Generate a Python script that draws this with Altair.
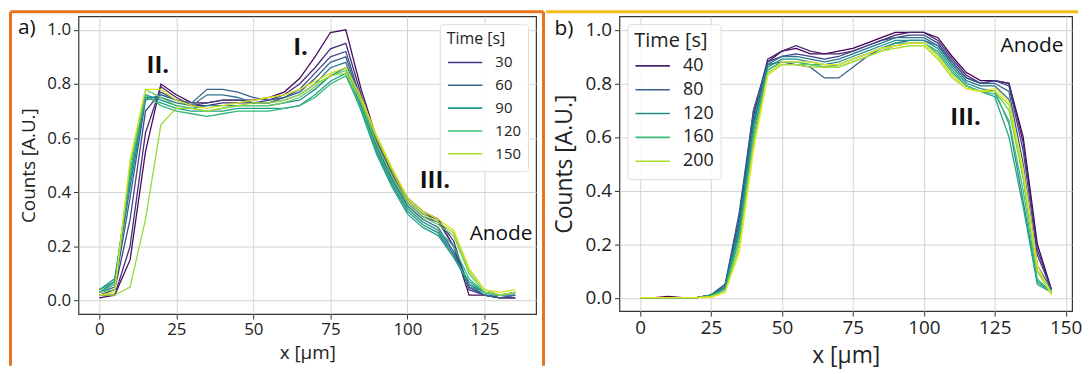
import altair as alt
import pandas as pd

# ---------------- data: panel a ----------------
xa = [0, 5, 10, 15, 20, 25, 30, 35, 40, 45, 50, 55, 60, 65,
      70, 75, 80, 85, 90, 95, 100, 105, 110, 115, 120, 125, 130, 135]
times_a = [10, 25, 40, 55, 70, 85, 100, 115, 130, 145, 160]
a_10 = [0.01, 0.02, 0.15, 0.55, 0.80, 0.76, 0.73, 0.73, 0.74, 0.74, 0.74, 0.75, 0.77, 0.82,
        0.90, 0.99, 1.00, 0.78, 0.60, 0.48, 0.38, 0.33, 0.30, 0.20, 0.02, 0.02, 0.01, 0.01]
a_25 = [0.02, 0.02, 0.20, 0.62, 0.79, 0.75, 0.72, 0.72, 0.73, 0.73, 0.73, 0.74, 0.76, 0.80,
        0.86, 0.93, 0.95, 0.76, 0.59, 0.47, 0.37, 0.32, 0.30, 0.22, 0.04, 0.02, 0.01, 0.01]
a_40 = [0.02, 0.04, 0.30, 0.70, 0.77, 0.74, 0.72, 0.73, 0.74, 0.74, 0.73, 0.73, 0.75, 0.78,
        0.84, 0.90, 0.92, 0.74, 0.58, 0.46, 0.36, 0.31, 0.29, 0.20, 0.05, 0.02, 0.01, 0.02]
a_55 = [0.03, 0.05, 0.38, 0.74, 0.76, 0.74, 0.73, 0.78, 0.78, 0.77, 0.75, 0.74, 0.75, 0.77,
        0.82, 0.88, 0.90, 0.73, 0.57, 0.45, 0.35, 0.30, 0.27, 0.18, 0.05, 0.02, 0.01, 0.02]
a_70 = [0.03, 0.07, 0.42, 0.75, 0.75, 0.73, 0.72, 0.76, 0.76, 0.75, 0.73, 0.73, 0.74, 0.76,
        0.80, 0.86, 0.88, 0.72, 0.56, 0.44, 0.34, 0.29, 0.26, 0.17, 0.06, 0.02, 0.02, 0.02]
a_85 = [0.04, 0.08, 0.45, 0.76, 0.74, 0.72, 0.71, 0.72, 0.72, 0.72, 0.72, 0.72, 0.73, 0.74,
        0.78, 0.83, 0.86, 0.71, 0.55, 0.43, 0.33, 0.28, 0.25, 0.16, 0.06, 0.03, 0.02, 0.03]
a_100 = [0.04, 0.07, 0.45, 0.75, 0.73, 0.71, 0.70, 0.70, 0.70, 0.71, 0.71, 0.71, 0.71, 0.72,
         0.76, 0.81, 0.84, 0.70, 0.54, 0.42, 0.32, 0.27, 0.24, 0.16, 0.07, 0.03, 0.02, 0.03]
a_115 = [0.03, 0.06, 0.48, 0.76, 0.72, 0.70, 0.69, 0.68, 0.69, 0.70, 0.70, 0.70, 0.71, 0.72,
         0.75, 0.80, 0.83, 0.71, 0.56, 0.44, 0.34, 0.29, 0.26, 0.20, 0.08, 0.03, 0.02, 0.03]
a_130 = [0.03, 0.04, 0.50, 0.78, 0.75, 0.72, 0.71, 0.70, 0.71, 0.72, 0.72, 0.72, 0.73, 0.75,
         0.79, 0.83, 0.85, 0.73, 0.58, 0.46, 0.36, 0.31, 0.28, 0.24, 0.10, 0.03, 0.02, 0.03]
a_145 = [0.02, 0.02, 0.05, 0.30, 0.65, 0.71, 0.71, 0.70, 0.71, 0.72, 0.73, 0.73, 0.74, 0.76,
         0.80, 0.83, 0.84, 0.74, 0.60, 0.48, 0.37, 0.32, 0.29, 0.25, 0.11, 0.04, 0.02, 0.03]
a_160 = [0.02, 0.03, 0.52, 0.78, 0.78, 0.74, 0.72, 0.71, 0.72, 0.73, 0.74, 0.75, 0.76, 0.78,
         0.81, 0.84, 0.86, 0.75, 0.61, 0.49, 0.38, 0.33, 0.30, 0.26, 0.12, 0.04, 0.03, 0.04]
series_a = [a_10, a_25, a_40, a_55, a_70, a_85, a_100, a_115, a_130, a_145, a_160]
legend_a = [30, 60, 90, 120, 150]

# ---------------- data: panel b ----------------
xb = [0, 5, 10, 15, 20, 25, 30, 35, 40, 45, 50, 55, 60, 65, 70,
      75, 80, 85, 90, 95, 100, 105, 110, 115, 120, 125, 130, 135, 140, 145]
times_b = [20, 40, 60, 80, 100, 120, 140, 160, 180, 200, 220]
b_20 = [0.00, 0.00, 0.005, 0.00, 0.00, 0.01, 0.04, 0.25, 0.65, 0.88, 0.92, 0.93, 0.91, 0.91, 0.92,
        0.93, 0.95, 0.97, 0.99, 0.99, 0.99, 0.97, 0.90, 0.84, 0.81, 0.81, 0.80, 0.60, 0.20, 0.03]
b_40 = [0.00, 0.00, 0.00, 0.00, 0.00, 0.01, 0.04, 0.28, 0.68, 0.89, 0.92, 0.94, 0.92, 0.91, 0.91,
        0.92, 0.94, 0.96, 0.98, 0.99, 0.99, 0.96, 0.89, 0.83, 0.80, 0.81, 0.80, 0.58, 0.18, 0.03]
b_60 = [0.00, 0.00, 0.00, 0.00, 0.00, 0.01, 0.05, 0.30, 0.70, 0.88, 0.90, 0.91, 0.90, 0.89, 0.90,
        0.92, 0.94, 0.96, 0.97, 0.98, 0.98, 0.95, 0.88, 0.82, 0.80, 0.81, 0.79, 0.55, 0.16, 0.03]
b_80 = [0.00, 0.00, 0.00, 0.00, 0.00, 0.01, 0.05, 0.32, 0.70, 0.87, 0.88, 0.87, 0.86, 0.82, 0.82,
        0.86, 0.90, 0.93, 0.95, 0.96, 0.96, 0.94, 0.88, 0.82, 0.80, 0.80, 0.77, 0.50, 0.12, 0.03]
b_100 = [0.00, 0.00, 0.00, 0.00, 0.00, 0.01, 0.04, 0.28, 0.66, 0.87, 0.90, 0.90, 0.89, 0.88, 0.89,
         0.91, 0.93, 0.95, 0.97, 0.97, 0.97, 0.94, 0.87, 0.81, 0.79, 0.79, 0.74, 0.45, 0.10, 0.02]
b_120 = [0.00, 0.00, 0.00, 0.00, 0.00, 0.01, 0.04, 0.26, 0.64, 0.86, 0.89, 0.89, 0.88, 0.87, 0.88,
         0.90, 0.92, 0.94, 0.96, 0.96, 0.96, 0.93, 0.86, 0.80, 0.78, 0.77, 0.65, 0.36, 0.06, 0.02]
b_140 = [0.00, 0.00, 0.00, 0.00, 0.00, 0.01, 0.03, 0.24, 0.62, 0.85, 0.88, 0.88, 0.87, 0.86, 0.87,
         0.89, 0.91, 0.93, 0.95, 0.95, 0.95, 0.92, 0.85, 0.79, 0.77, 0.75, 0.60, 0.34, 0.05, 0.02]
b_160 = [0.00, 0.00, 0.00, 0.00, 0.00, 0.005, 0.03, 0.22, 0.60, 0.85, 0.88, 0.88, 0.87, 0.87, 0.87,
         0.89, 0.91, 0.93, 0.94, 0.95, 0.95, 0.91, 0.84, 0.79, 0.77, 0.76, 0.66, 0.40, 0.07, 0.02]
b_180 = [0.00, 0.00, 0.00, 0.00, 0.00, 0.005, 0.02, 0.20, 0.58, 0.84, 0.87, 0.87, 0.87, 0.86, 0.86,
         0.88, 0.90, 0.92, 0.94, 0.95, 0.95, 0.90, 0.83, 0.78, 0.77, 0.77, 0.70, 0.45, 0.10, 0.02]
b_200 = [0.00, 0.00, 0.00, 0.00, 0.00, 0.005, 0.02, 0.18, 0.56, 0.83, 0.87, 0.87, 0.86, 0.86, 0.86,
         0.88, 0.90, 0.92, 0.93, 0.94, 0.94, 0.89, 0.82, 0.78, 0.77, 0.77, 0.72, 0.46, 0.10, 0.01]
b_220 = [0.00, 0.00, 0.00, 0.00, 0.00, 0.00, 0.02, 0.17, 0.55, 0.83, 0.88, 0.88, 0.88, 0.87, 0.87,
         0.89, 0.91, 0.93, 0.94, 0.95, 0.95, 0.90, 0.83, 0.78, 0.77, 0.78, 0.73, 0.48, 0.12, 0.01]
series_b = [b_20, b_40, b_60, b_80, b_100, b_120, b_140, b_160, b_180, b_200, b_220]
legend_b = [40, 80, 120, 160, 200]

# annotations (data coordinates)
ann_a_text = ["II.", "I.", "III."]
ann_a_x = [19.0, 65.3, 108.9]
ann_a_y = [0.865, 0.931, 0.443]
anode_a = {"x": [130.4], "y": [0.245], "label": ["Anode"]}
ann_b_text = ["III."]
ann_b_x = [114.7]
ann_b_y = [0.670]
anode_b = {"x": [138.1], "y": [0.938], "label": ["Anode"]}

FONT = "Open Sans"
ORANGE = "#e8731f"
YELLOW = "#f2bd1d"


def long_df(xs, times, series):
    rows = []
    for t, ys in zip(times, series):
        for x, y in zip(xs, ys):
            rows.append({"x": x, "y": y, "t": t})
    return pd.DataFrame(rows)


dfa = long_df(xa, times_a, series_a)
dfb = long_df(xb, times_b, series_b)
one = pd.DataFrame({"k": [0]})


def panel(df, xdom, xvals, cdom, lvals, legend_orient, w, h, tick_fs, title_fs,
          leg_title_fs, leg_label_fs, clip_h, title_pad, ann, anode, tag, tag_pos,
          frame, y_tp, x_tp):
    X = alt.X("x:Q", scale=alt.Scale(domain=xdom, nice=False, zero=False),
              axis=alt.Axis(values=xvals, title="x [µm]", labelFontSize=tick_fs,
                            titleFontSize=title_fs, titlePadding=x_tp, labelPadding=3))
    Y = alt.Y("y:Q", scale=alt.Scale(domain=[-0.05, 1.05], nice=False, zero=False),
              axis=alt.Axis(values=[0, 0.2, 0.4, 0.6, 0.8, 1.0], format=".1f",
                            title="Counts [A.U.]", labelFontSize=tick_fs,
                            titleFontSize=title_fs, titlePadding=y_tp, labelPadding=3))
    lines = alt.Chart(df).mark_line(strokeWidth=1.3).encode(
        x=X, y=Y,
        color=alt.Color("t:Q", scale=alt.Scale(scheme="viridis", domain=cdom),
                        legend=alt.Legend(title="Time [s]", type="symbol", values=lvals,
                                          symbolType="stroke", symbolSize=1200,
                                          symbolStrokeWidth=1.6, orient=legend_orient,
                                          offset=8, padding=7, rowPadding=2,
                                          clipHeight=clip_h, titlePadding=title_pad,
                                          fillColor="rgba(255,255,255,0.85)",
                                          strokeColor="#dddddd", cornerRadius=3,
                                          titleFont=FONT, titleFontSize=leg_title_fs,
                                          titleFontWeight="normal", titleColor="#222",
                                          labelFont=FONT, labelFontSize=leg_label_fs,
                                          labelColor="#222", labelOffset=12)),
        detail="t:N",
        order="x:Q",
    )
    adf = pd.DataFrame({"x": ann[1], "y": ann[2], "label": ann[0]})
    roman = alt.Chart(adf).mark_text(font=FONT, fontSize=24, fontWeight="bold",
                                     color="#111").encode(x=X, y=Y, text="label:N")
    anode_t = alt.Chart(pd.DataFrame(anode)).mark_text(font=FONT, fontSize=21,
                                                       color="#111").encode(
        x=X, y=Y, text="label:N")
    tag_t = alt.Chart(one).mark_text(font=FONT, fontSize=21, color="#111").encode(
        x=alt.value(tag_pos[0]), y=alt.value(tag_pos[1]), text=alt.value(tag))
    layers = [lines, roman, anode_t, tag_t]
    for spec in frame:
        layers.append(spec)
    return alt.layer(*layers).properties(width=w, height=h)


def vrule(xp, y1, y2, color):
    return alt.Chart(one).mark_rule(color=color, strokeWidth=3).encode(
        x=alt.value(xp), y=alt.value(y1), y2=alt.value(y2))


def hrule(x1, x2, yp, color):
    return alt.Chart(one).mark_rule(color=color, strokeWidth=3).encode(
        x=alt.value(x1), x2=alt.value(x2), y=alt.value(yp))


WA, HA = 461, 300
WB, HB = 456, 297

frame_a = [vrule(-68.5, -4.5, 352, ORANGE), hrule(-68.5, 468.5, -4.5, ORANGE),
           vrule(468.5, -4.5, 352, ORANGE)]
frame_b = [hrule(-74, 462, -4.5, YELLOW)]

pa = panel(dfa, [-6.75, 141.75], [0, 25, 50, 75, 100, 125], [5, 170], legend_a,
           "top-right", WA, HA, 17, 19, 16, 15, 21, 5, (ann_a_text, ann_a_x, ann_a_y),
           anode_a, "a)", (-52, 12), frame_a, 8, 6)
pb = panel(dfb, [-7.25, 152.25], [0, 25, 50, 75, 100, 125, 150], [20, 225], legend_b,
           "top-left", WB, HB, 19, 23, 20, 18, 22, 4, (ann_b_text, ann_b_x, ann_b_y),
           anode_b, "b)", (-56, 13), frame_b, 9, 7)

chart = alt.hconcat(pa, pb, spacing=84, bounds="flush").resolve_scale(
    color="independent"
).configure_view(stroke="#333333", strokeWidth=1.2).configure_axis(
    grid=True, gridColor="#d4d4d4", gridWidth=1, domain=False, ticks=True, tickSize=5,
    tickColor="#333333", labelColor="#222222", titleColor="#222222", labelFont=FONT,
    titleFont=FONT, titleFontWeight="normal"
).properties(padding=0, background="white")

chart.save("out.html", embed_options={"renderer": "svg", "actions": False})
